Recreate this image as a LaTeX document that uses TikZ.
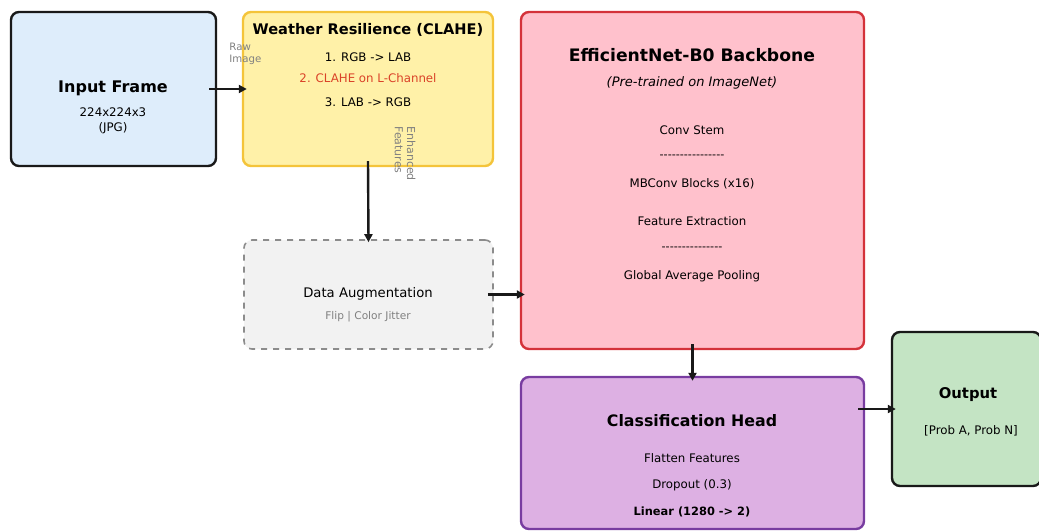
\documentclass[tikz,border=0pt]{standalone}
\usepackage{fontspec}
\setmainfont{DejaVu Sans}
\newfontfamily\dashfont[Ligatures=TeXOff]{DejaVu Sans}
\usetikzlibrary{arrows.meta}

\definecolor{inblue}{RGB}{222,237,251}
\definecolor{clahefill}{RGB}{255,241,168}
\definecolor{claheline}{RGB}{244,196,58}
\definecolor{augfill}{RGB}{242,242,242}
\definecolor{augline}{RGB}{140,140,140}
\definecolor{effill}{RGB}{255,193,204}
\definecolor{efline}{RGB}{212,50,58}
\definecolor{headfill}{RGB}{221,176,227}
\definecolor{headline}{RGB}{120,60,160}
\definecolor{outfill}{RGB}{196,228,196}
\definecolor{darkline}{RGB}{25,25,25}
\definecolor{stepred}{RGB}{218,66,40}

\tikzset{
  block/.style={rounded corners=4pt, line width=1.2pt, inner sep=0pt},
  title/.style={font=\fontsize{8}{9}\selectfont\bfseries, inner sep=0pt},
  bigtitle/.style={font=\fontsize{8.6}{10}\selectfont\bfseries, inner sep=0pt},
  body/.style={font=\fontsize{5.9}{7}\selectfont, inner sep=0pt},
  rule/.style={font=\fontsize{5.6}{6.5}\selectfont\dashfont, inner sep=0pt},
  tiny/.style={font=\fontsize{5.1}{5.8}\selectfont, text=gray, inner sep=0pt},
  flow/.style={-{Triangle[length=4pt,width=4pt]}, line width=1.2pt, darkline},
}

\begin{document}
\begin{tikzpicture}[x=0.5pt,y=-0.5pt]
    \useasboundingbox (0,0) rectangle (1039,531);

    % boxes
    \node[block, draw=darkline, fill=inblue, minimum width=102.5pt, minimum height=77pt] (inframe) at (113.5,89) {};
    \node[block, draw=claheline, fill=clahefill, minimum width=125pt, minimum height=77pt] (clahe) at (368,89) {};
    \node[block, draw=augline, fill=augfill, dashed, line width=0.8pt, minimum width=124.5pt, minimum height=54.5pt] (augment) at (368.5,294.5) {};
    \node[block, draw=efline, fill=effill, minimum width=171.5pt, minimum height=168.5pt] (backbone) at (692.5,180.5) {};
    \node[block, draw=headline, fill=headfill, minimum width=171.5pt, minimum height=76pt] (head) at (692.5,453) {};
    \node[block, draw=darkline, fill=outfill, minimum width=74.5pt, minimum height=77pt] (output) at (966.5,409) {};

    % input frame
    \node[title] (in_t) at (113,88) {Input Frame};
    \node[body] (in_s) at (113,112) {224x224x3};
    \node[body] (in_f) at (113,128) {(JPG)};

    % weather resilience
    \node[title, font=\fontsize{7.3}{8}\selectfont\bfseries] (cl_t) at (368,30) {Weather Resilience (CLAHE)};
    \node[body] (cl_1) at (368,57) {1. RGB -> LAB};
    \node[body, text=stepred] (cl_2) at (368,78) {2. CLAHE on L-Channel};
    \node[body] (cl_3) at (368,102) {3. LAB -> RGB};

    % augmentation
    \node[body, font=\fontsize{6.6}{8}\selectfont] (au_t) at (368,294) {Data Augmentation};
    \node[tiny, font=\fontsize{5.3}{6}\selectfont] (au_s) at (368,317) {Flip | Color Jitter};

    % backbone
    \node[bigtitle] (ef_t) at (692,55) {EfficientNet-B0 Backbone};
    \node[body, font=\fontsize{6.5}{7.5}\selectfont\itshape] (ef_p) at (692,83) {(Pre-trained on ImageNet)};
    \node[body] (ef_1) at (692,130) {Conv Stem};
    \node[rule] (ef_d1) at (692,157) {----------------};
    \node[body] (ef_2) at (692,184) {MBConv Blocks (x16)};
    \node[body] (ef_3) at (692,221) {Feature Extraction};
    \node[rule] (ef_d2) at (692,249) {---------------};
    \node[body] (ef_4) at (692,276) {Global Average Pooling};

    % classification head
    \node[bigtitle, font=\fontsize{7.9}{9}\selectfont\bfseries] (hd_t) at (692,421) {Classification Head};
    \node[body] (hd_1) at (692,458) {Flatten Features};
    \node[body] (hd_2) at (692,485) {Dropout (0.3)};
    \node[body, font=\fontsize{5.7}{7}\selectfont\bfseries] (hd_3) at (692,512) {Linear (1280 -> 2)};

    % output
    \node[title, font=\fontsize{7.4}{8.5}\selectfont\bfseries] (out_t) at (968,395) {Output};
    \node[body] (out_s) at (971,431) {[Prob A, Prob N]};

    % connectors
    \draw[flow] ([xshift=-4pt]inframe.east) -- ([xshift=2.5pt]clahe.west);
    \draw[flow] ([yshift=3pt]clahe.south) -- ([yshift=-1.5pt]augment.north);
    \draw[flow] ([xshift=-3pt]augment.east) -- ([xshift=2.5pt]backbone.west|-augment);
    \draw[flow] ([yshift=3pt]backbone.south) -- ([yshift=-2.5pt]head.north);
    \draw[flow] ([xshift=-3.5pt]head.east|-output) -- ([xshift=2.5pt]output.west);

    % edge labels
    \node[tiny, align=left, anchor=north west] (raw) at (229,43) {Raw\\Image};
    \node[tiny, font=\fontsize{5.5}{6.2}\selectfont, rotate=-90, align=left, anchor=north west] (enh) at (416,126) {Enhanced\\Features};
\end{tikzpicture}
\end{document}
